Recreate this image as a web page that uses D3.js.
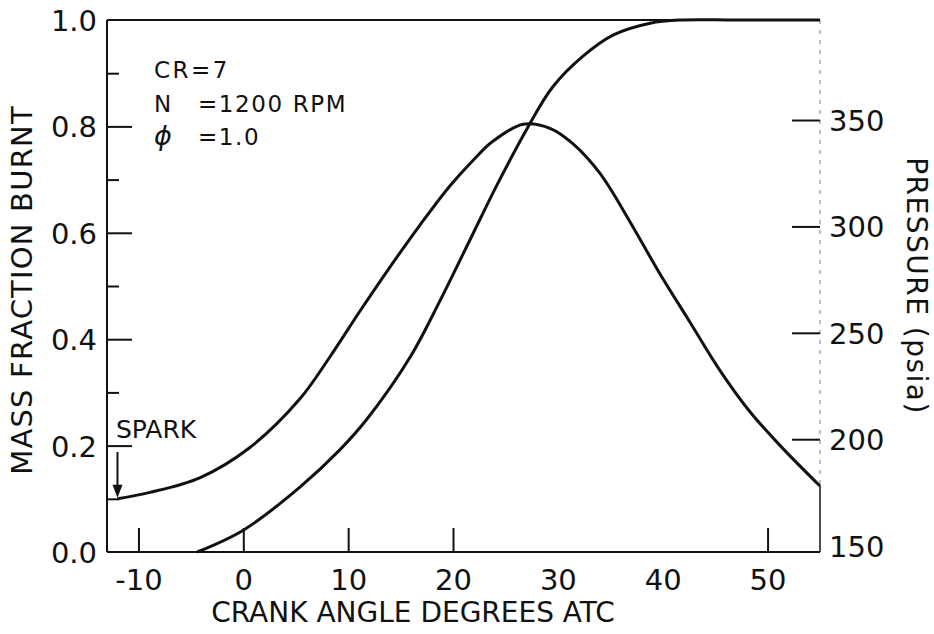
<!DOCTYPE html>
<html>
<head>
<meta charset="utf-8">
<script src="https://cdn.jsdelivr.net/npm/d3@7"></script>
<style>
  body { margin: 0; background: #fff; }
  svg text { font-family: "DejaVu Sans", sans-serif; fill: #111; }
  .domain { display: none; }
</style>
</head>
<body>
<div id="chart"></div>
<script>
// crank angle (deg ATC) vs cylinder pressure (psia)
const crankP = [-12, -8.9, -4.1, 0.6, 5.4, 8.3, 11.1, 14.0, 16.9, 19.7, 21.9, 23.8, 26.7, 29.3, 31.4, 34.0, 36.9, 39.7, 42.6, 45.5, 48.3, 51.2, 55];
const pressure = [172, 175, 182, 196, 219, 239, 260, 281, 301, 319, 331, 340, 348, 346, 339, 325, 302, 278, 255, 232, 213, 197, 178];

// crank angle vs mass fraction burnt
const crankB = [-4.4, 0, 5.4, 9.2, 11.8, 15.9, 18.8, 21.6, 24.2, 27.1, 29.5, 32.4, 35.3, 38.8, 41.7, 47, 55];
const burnt = [0, 0.041, 0.122, 0.192, 0.250, 0.366, 0.474, 0.586, 0.690, 0.797, 0.874, 0.932, 0.972, 0.994, 1.0, 1.0, 1.0];

const sparkAngle = -12;

const xLabels = [-10, 0, 10, 20, 30, 40, 50];
const xMarks = [-10, 0, 10, 20, 50];
const leftLabels = [0, 0.2, 0.4, 0.6, 0.8, 1.0];
const leftMajor = [0.2, 0.4, 0.6, 0.8];
const leftMinor = [0.1, 0.3, 0.5, 0.7, 0.9];
const rightLabels = [150, 200, 250, 300, 350];
const rightMarks = [200, 250, 300, 350];

const notes = [["CR=7", ""], ["N", "=1200 RPM"], ["\u03D5", "=1.0"]];

const width = 934, height = 634;

const svg = d3.select("#chart")
              .append("svg")
              .attr("width", width)
              .attr("height", height);

const x = d3.scaleLinear().domain([-13, 55]).range([107, 820]);
const yL = d3.scaleLinear().domain([0, 1]).range([552, 20]);
const yR = d3.scaleLinear().domain([147, 397]).range([552, 20]);

const [x0, x1] = x.range();

// frame
svg.append("line").attr("x1", x0).attr("x2", x1).attr("y1", yL(1)).attr("y2", yL(1))
   .attr("stroke", "#111").attr("stroke-width", 2);
svg.append("line").attr("x1", x0).attr("x2", x1).attr("y1", yL(0)).attr("y2", yL(0))
   .attr("stroke", "#111").attr("stroke-width", 2);
svg.append("line").attr("x1", x0).attr("x2", x0).attr("y1", yL(1)).attr("y2", yL(0))
   .attr("stroke", "#111").attr("stroke-width", 2);

const pEnd = pressure[pressure.length - 1];
svg.append("line").attr("x1", x1).attr("x2", x1).attr("y1", yL(1)).attr("y2", yR(pEnd))
   .attr("stroke", "#aaa").attr("stroke-width", 1.5).attr("stroke-dasharray", "4,6");
svg.append("line").attr("x1", x1).attr("x2", x1).attr("y1", yR(pEnd)).attr("y2", yL(0))
   .attr("stroke", "#111").attr("stroke-width", 1.5);

// left axis: inner ticks + labels
const tickStyle = g => g.selectAll(".tick line").attr("stroke", "#111").attr("stroke-width", 2);

svg.append("g").attr("transform", `translate(${x0},0)`)
   .call(d3.axisRight(yL).tickValues(leftMajor).tickSize(25).tickFormat(""))
   .call(tickStyle);
svg.append("g").attr("transform", `translate(${x0},0)`)
   .call(d3.axisRight(yL).tickValues(leftMinor).tickSize(12).tickFormat(""))
   .call(tickStyle);
svg.append("g").attr("transform", `translate(${x0},0)`)
   .call(d3.axisLeft(yL).tickValues(leftLabels).tickSize(0).tickPadding(10).tickFormat(d3.format(".1f")))
   .call(g => g.selectAll("text").attr("font-size", 29).attr("dy", "0.36em"));

// bottom axis
svg.append("g").attr("transform", `translate(0,${yL(0)})`)
   .call(d3.axisTop(x).tickValues(xMarks).tickSize(24).tickFormat(""))
   .call(tickStyle);
svg.append("g").attr("transform", `translate(0,${yL(0)})`)
   .call(d3.axisBottom(x).tickValues(xLabels).tickSize(0).tickPadding(17).tickFormat(d => String(d)))
   .call(g => g.selectAll("text").attr("font-size", 29));

// right axis
svg.append("g").attr("transform", `translate(${x1},0)`)
   .call(d3.axisLeft(yR).tickValues(rightMarks).tickSize(28).tickFormat(""))
   .call(tickStyle);
svg.append("g").attr("transform", `translate(${x1},0)`)
   .call(d3.axisRight(yR).tickValues(rightLabels).tickSize(0).tickPadding(9).tickFormat(d => String(d)))
   .call(g => g.selectAll("text").attr("font-size", 29).attr("dy", "0.36em"));

// axis titles
svg.append("text")
   .attr("transform", "translate(32,290) rotate(-90)")
   .attr("text-anchor", "middle")
   .attr("font-size", 29)
   .attr("letter-spacing", 1.2)
   .text("MASS FRACTION BURNT");

svg.append("text")
   .attr("x", 413).attr("y", 622)
   .attr("text-anchor", "middle")
   .attr("font-size", 28)
   .text("CRANK ANGLE DEGREES ATC");

svg.append("text")
   .attr("transform", "translate(907,286) rotate(90)")
   .attr("text-anchor", "middle")
   .attr("font-size", 28)
   .attr("letter-spacing", 1.5)
   .text("PRESSURE (psia)");

// curves
const pLine = d3.line().x((d, i) => x(crankP[i])).y(d => yR(d)).curve(d3.curveCatmullRom.alpha(0.5));
const bLine = d3.line().x((d, i) => x(crankB[i])).y(d => yL(d)).curve(d3.curveCatmullRom.alpha(0.5));

svg.append("path").datum(pressure).attr("d", pLine)
   .attr("fill", "none").attr("stroke", "#111").attr("stroke-width", 3);
svg.append("path").datum(burnt).attr("d", bLine)
   .attr("fill", "none").attr("stroke", "#111").attr("stroke-width", 3);

// conditions note
const note = svg.append("g").attr("font-size", 23);
notes.forEach(([k, v], i) => {
    const yy = 78 + i * 33.5;
    const isPhi = k === "\u03D5";
    note.append("text").attr("x", 154).attr("y", yy)
        .attr("font-style", isPhi ? "italic" : null)
        .attr("font-size", isPhi ? 27 : 23)
        .attr("letter-spacing", i === 0 ? 2.5 : 0)
        .text(k);
    if (v) {
        note.append("text").attr("x", 198).attr("y", yy)
            .attr("letter-spacing", 1.6).text(v);
    }
});

// spark marker
const sx = x(sparkAngle), sy = yR(pressure[0]);
svg.append("text").attr("x", 116).attr("y", 438).attr("font-size", 25).text("SPARK");
svg.append("line").attr("x1", sx).attr("x2", sx).attr("y1", 452).attr("y2", sy - 12)
   .attr("stroke", "#111").attr("stroke-width", 2);
svg.append("path")
   .attr("d", `M${sx - 5},${sy - 14}L${sx + 5},${sy - 14}L${sx},${sy - 1}Z`)
   .attr("fill", "#111");
</script>
</body>
</html>
